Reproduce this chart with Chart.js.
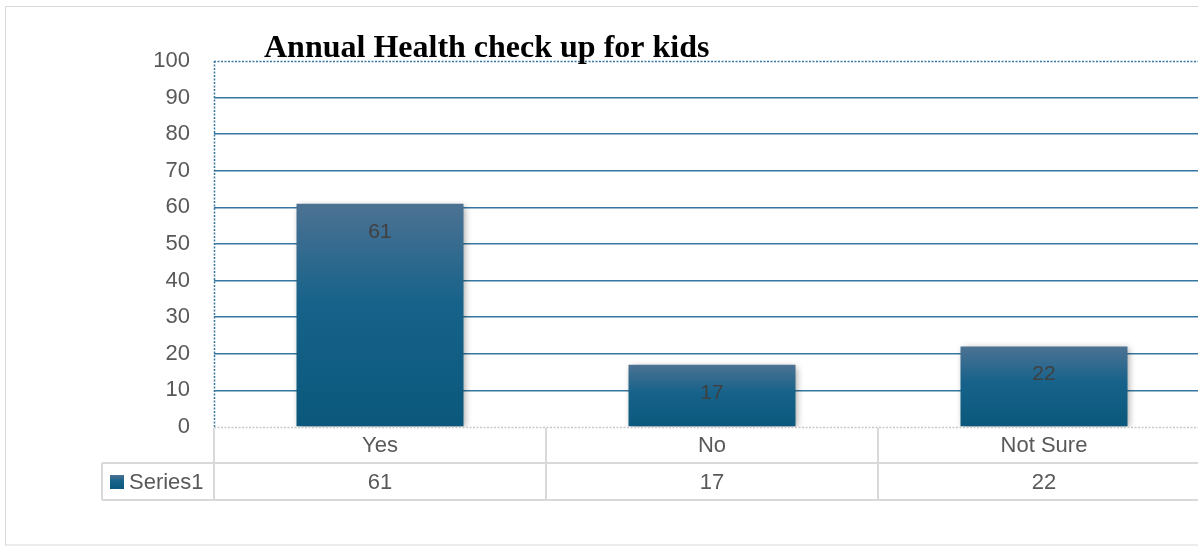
<!DOCTYPE html>
<html>
<head>
<meta charset="utf-8">
<script src="https://cdn.jsdelivr.net/npm/chart.js@4"></script>
<style>
html, body { margin: 0; padding: 0; background: #fff; overflow: hidden; }
#wrap { position: absolute; left: 0; top: 0; width: 1215px; height: 546px; }
</style>
</head>
<body>
<div id="wrap"><canvas id="healthChart"></canvas></div>
<script>
// chart data
const chartTitle = 'Annual Health check up for kids';
const categories = ['Yes', 'No', 'Not Sure'];
const seriesName = 'Series1';
const values = [61, 17, 22];
const yMin = 0, yMax = 100, yStep = 10;

const FONT = '"Liberation Sans", Arial, sans-serif';
const TEXT_GREY = '#595959';
const GRID_BLUE = '#3577a0';
const TABLE_LINE = '#d9d9d9';

function barGradient(ctx, top, bottom) {
    const g = ctx.createLinearGradient(0, top, 0, bottom);
    g.addColorStop(0, '#4c7293');
    g.addColorStop(0.45, '#16628a');
    g.addColorStop(1, '#0b587c');
    return g;
}

// draws frame, title, axis lines, bar labels and the data table
const excelLook = {
    id: 'excelLook',
    beforeDraw(chart) {
        const ctx = chart.ctx;
        ctx.save();
        ctx.strokeStyle = TABLE_LINE;
        ctx.lineWidth = 1;
        ctx.strokeRect(5.5, 6.5, chart.width + 20, 538.5);
        ctx.restore();
    },
    beforeDatasetsDraw(chart) {
        const ctx = chart.ctx;
        ctx.save();
        ctx.shadowColor = 'rgba(0,0,0,0.4)';
        ctx.shadowBlur = 7;
        ctx.shadowOffsetX = 2;
        ctx.shadowOffsetY = 2;
    },
    afterDatasetsDraw(chart) {
        const ctx = chart.ctx;
        ctx.restore();
        const a = chart.chartArea;

        // dotted top line and y axis
        ctx.save();
        ctx.setLineDash([2, 1.5]);
        ctx.lineWidth = 1.5;
        ctx.strokeStyle = GRID_BLUE;
        ctx.beginPath();
        ctx.moveTo(a.left, a.top + 0.5);
        ctx.lineTo(chart.width, a.top + 0.5);
        ctx.moveTo(a.left + 0.5, a.top);
        ctx.lineTo(a.left + 0.5, a.bottom);
        ctx.stroke();
        ctx.strokeStyle = '#c8c8c8';
        ctx.beginPath();
        ctx.moveTo(a.left, a.bottom + 0.5);
        ctx.lineTo(chart.width, a.bottom + 0.5);
        ctx.stroke();
        ctx.restore();

        // value labels inside bars
        const meta = chart.getDatasetMeta(0);
        ctx.save();
        ctx.fillStyle = '#404040';
        ctx.font = '21px ' + FONT;
        ctx.textAlign = 'center';
        ctx.textBaseline = 'middle';
        meta.data.forEach((bar, i) => {
            ctx.fillText(String(values[i]), bar.x, bar.y + 28);
        });
        ctx.restore();

        // title
        ctx.save();
        ctx.fillStyle = '#000';
        ctx.font = 'bold 32px "Liberation Serif", "Times New Roman", serif';
        ctx.textBaseline = 'alphabetic';
        ctx.fillText(chartTitle, a.left + 50, 57);
        ctx.restore();
    },
    afterDraw(chart) {
        const ctx = chart.ctx;
        const a = chart.chartArea;
        const x = chart.scales.x;
        const catW = (a.right - a.left) / categories.length;
        const y0 = a.bottom, y1 = y0 + 36, y2 = y1 + 37;
        const keyLeft = 102;

        ctx.save();
        ctx.strokeStyle = TABLE_LINE;
        ctx.lineWidth = 2;
        ctx.beginPath();
        ctx.moveTo(a.left, y1); ctx.lineTo(chart.width, y1);
        ctx.moveTo(keyLeft, y1); ctx.lineTo(a.left, y1);
        ctx.moveTo(keyLeft, y2); ctx.lineTo(chart.width, y2);
        ctx.moveTo(keyLeft, y1); ctx.lineTo(keyLeft, y2);
        for (let i = 0; i <= categories.length; i++) {
            const xe = a.left + i * catW;
            ctx.moveTo(xe, y0 + 1); ctx.lineTo(xe, y2);
        }
        ctx.stroke();

        ctx.fillStyle = TEXT_GREY;
        ctx.font = '22px ' + FONT;
        ctx.textAlign = 'center';
        ctx.textBaseline = 'middle';
        categories.forEach((c, i) => {
            const cx = x.getPixelForValue(i);
            ctx.fillText(c, cx, (y0 + y1) / 2 + 1);
            ctx.fillText(String(values[i]), cx, (y1 + y2) / 2 + 1);
        });

        // legend key
        ctx.fillStyle = barGradient(ctx, y1 + 12, y1 + 26);
        ctx.fillRect(110, y1 + 12, 14, 14);
        ctx.fillStyle = TEXT_GREY;
        ctx.textAlign = 'left';
        ctx.fillText(seriesName, 129, (y1 + y2) / 2 + 1);
        ctx.restore();
    }
};

new Chart(document.getElementById('healthChart'), {
    type: 'bar',
    data: {
        labels: categories,
        datasets: [{
            label: seriesName,
            data: values,
            backgroundColor(context) {
                const chart = context.chart;
                if (!chart.chartArea) return '#0b587c';
                const yScale = chart.scales.y;
                const top = yScale.getPixelForValue(context.raw);
                const bottom = yScale.getPixelForValue(0);
                return barGradient(chart.ctx, top, bottom);
            },
            borderWidth: 0,
            barPercentage: 1,
            categoryPercentage: 0.503
        }]
    },
    options: {
        responsive: true,
        maintainAspectRatio: false,
        animation: false,
        layout: { padding: { left: 0, top: 61, right: 5, bottom: 119 } },
        plugins: {
            legend: { display: false },
            title: { display: false },
            tooltip: { enabled: false }
        },
        scales: {
            x: { display: false },
            y: {
                min: yMin,
                max: yMax,
                ticks: {
                    stepSize: yStep,
                    padding: 24,
                    color: TEXT_GREY,
                    font: { family: FONT, size: 22 }
                },
                grid: {
                    drawTicks: false,
                    lineWidth: 1.6,
                    color(ctx) {
                        const v = ctx.tick ? ctx.tick.value : null;
                        return (v === yMax || v === yMin) ? 'rgba(0,0,0,0)' : GRID_BLUE;
                    }
                },
                border: { display: false },
                afterFit(scale) { scale.width = 214; }
            }
        }
    },
    plugins: [excelLook]
});
</script>
</body>
</html>
